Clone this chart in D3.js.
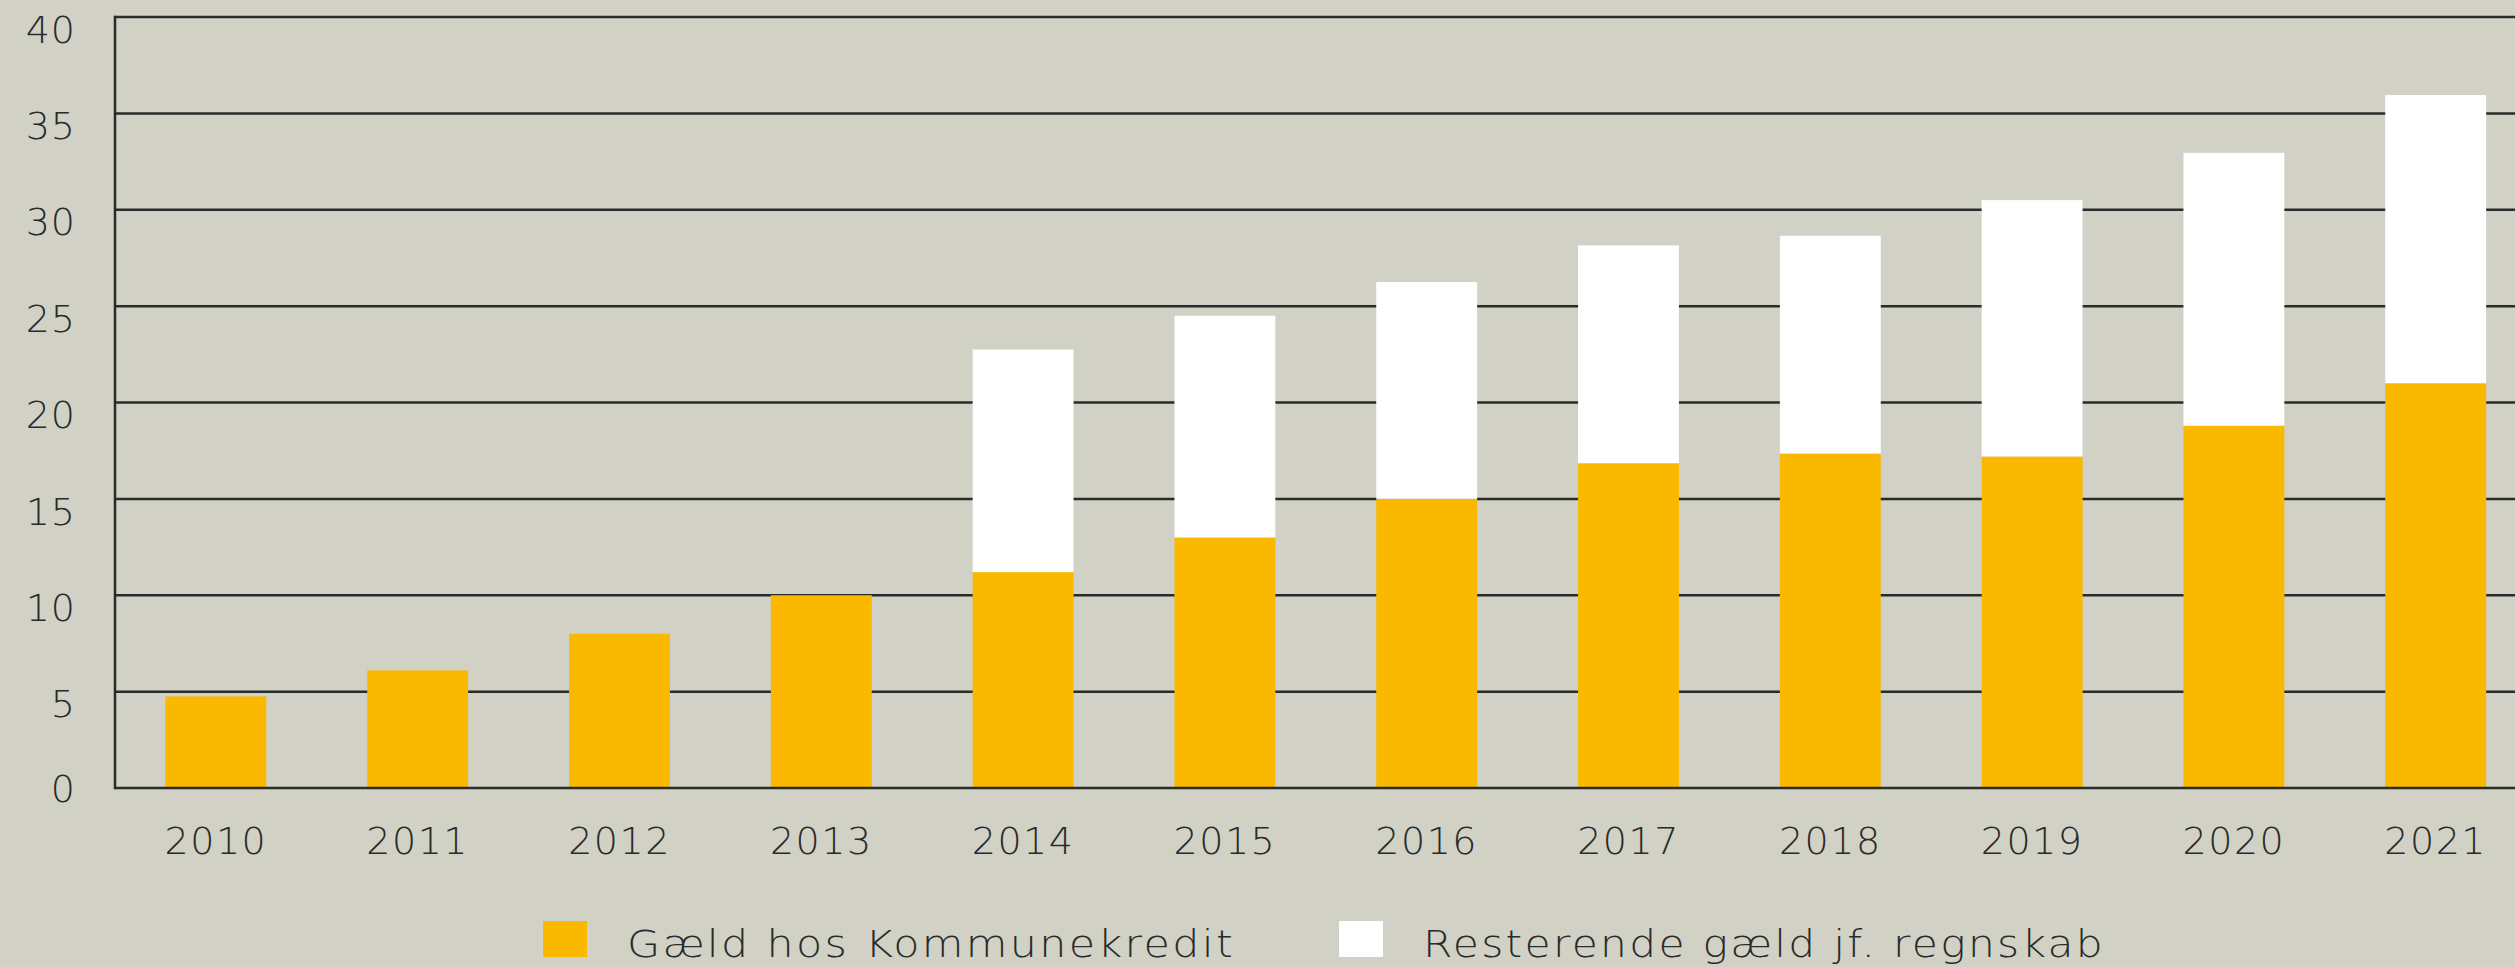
<!DOCTYPE html>
<html>
<head>
<meta charset="utf-8">
<script src="https://cdn.jsdelivr.net/npm/d3@7"></script>
<style>
  html, body { margin: 0; padding: 0; background: #d1d1c5; }
  svg { display: block; }
  text { font-family: "DejaVu Sans", Lato, sans-serif; font-weight: 200; fill: #2a2a2a; }
</style>
</head>
<body>
<svg id="chart" width="2515" height="967"></svg>
<script>
const years = ["2010","2011","2012","2013","2014","2015","2016","2017","2018","2019","2020","2021"];
const gaeldKommunekredit = [4.75, 6.1, 8.0, 10.0, 11.2, 13.0, 15.0, 16.85, 17.35, 17.2, 18.8, 21.0];
const resterendeGaeld = [0, 0, 0, 0, 11.55, 11.5, 11.25, 11.3, 11.3, 13.3, 14.15, 14.95];
const yTicks = [0, 5, 10, 15, 20, 25, 30, 35, 40];
const seriesNames = ["Gæld hos Kommunekredit", "Resterende gæld jf. regnskab"];
const seriesColors = ["#fab900", "#ffffff"];

const W = 2515, H = 967;
const axisX = 115, plotTop = 17, plotBottom = 788;
const step = 201.8;

const svg = d3.select("#chart");
svg.append("rect").attr("width", W).attr("height", H).attr("fill", "#d1d1c5");

const x = d3.scaleBand().domain(years).range([axisX, axisX + step * years.length])
  .paddingInner(0.5).paddingOuter(0.25);
const y = d3.scaleLinear().domain([0, 40]).range([plotBottom, plotTop]);

// gridlines
svg.append("g").selectAll("line").data(yTicks.filter(d => d > 0)).join("line")
  .attr("x1", axisX).attr("x2", W)
  .attr("y1", d => y(d)).attr("y2", d => y(d))
  .attr("stroke", "#2b2b2b").attr("stroke-width", 2.5);

// stacked data
const data = years.map((yr, i) => ({ year: yr, a: gaeldKommunekredit[i], b: resterendeGaeld[i] }));
const stack = d3.stack().keys(["a", "b"])(data);

svg.append("g").selectAll("g").data(stack).join("g")
  .attr("fill", (d, i) => seriesColors[i])
  .selectAll("rect").data(d => d.filter(p => p[1] - p[0] > 0)).join("rect")
  .attr("x", d => x(d.data.year))
  .attr("width", x.bandwidth())
  .attr("y", d => y(d[1]))
  .attr("height", d => y(d[0]) - y(d[1]));

// axes lines
svg.append("line").attr("x1", axisX).attr("x2", axisX).attr("y1", plotTop - 1.25).attr("y2", plotBottom + 1.25)
  .attr("stroke", "#2b2b2b").attr("stroke-width", 2.5);
svg.append("line").attr("x1", axisX).attr("x2", W).attr("y1", plotBottom).attr("y2", plotBottom)
  .attr("stroke", "#2b2b2b").attr("stroke-width", 2.5);

// y labels
svg.append("g").selectAll("text").data(yTicks).join("text")
  .attr("x", 76)
  .attr("y", d => y(d) + (d === 0 ? 0 : 12))
  .attr("dy", "0.36em")
  .attr("text-anchor", "end")
  .attr("font-size", 38)
  .attr("letter-spacing", 1)
  .text(d => d);

// x labels
svg.append("g").selectAll("text").data(years).join("text")
  .attr("x", d => x(d) + x.bandwidth() / 2)
  .attr("y", 854)
  .attr("text-anchor", "middle")
  .attr("font-size", 38)
  .attr("letter-spacing", 1.5)
  .text(d => d);

// legend
const legendX = [543, 1339];
const legendTextX = [627, 1423];
const legendW = [608, 682];
const lg = svg.append("g");
seriesNames.forEach((name, i) => {
  lg.append("rect").attr("x", legendX[i]).attr("y", 921).attr("width", 44).attr("height", 36)
    .attr("fill", seriesColors[i]);
  lg.append("text").attr("x", legendTextX[i]).attr("y", 957)
    .attr("font-size", 37)
    .attr("letter-spacing", 2)
    .attr("textLength", legendW[i]).attr("lengthAdjust", "spacingAndGlyphs")
    .text(name);
});
</script>
</body>
</html>
